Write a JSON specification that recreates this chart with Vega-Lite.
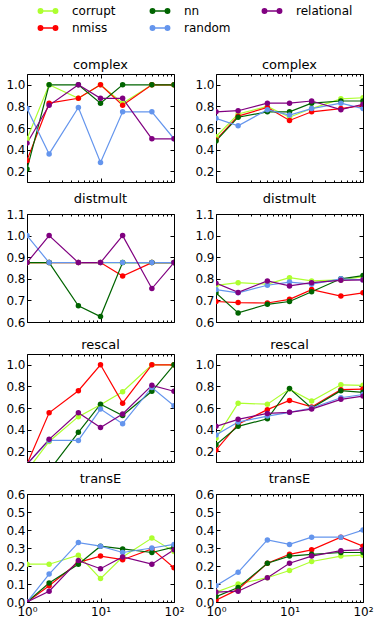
{
"$schema": "https://vega.github.io/schema/vega-lite/v6.json",
"padding": {"left": 5, "top": 0, "right": 5, "bottom": 5},
"bounds": "flush",
"columns": 2,
"spacing": {"row": 32, "column": 42},
"config": {"font": "DejaVu Sans", "view": {"stroke": "black", "strokeWidth": 1}, "title": {"fontSize": 13, "fontWeight": "normal", "offset": 2, "color": "black"},
  "axis": {"grid": false, "domain": false, "title": null, "labelFontSize": 12, "labelColor": "black", "tickColor": "black", "labelPadding": 6}},
"datasets": {"d": [
{"m":"complex","s":"L","g":"corrupt","x":1,"y":0.5},{"m":"complex","s":"L","g":"corrupt","x":2,"y":1.0},{"m":"complex","s":"L","g":"corrupt","x":5,"y":0.875},{"m":"complex","s":"L","g":"corrupt","x":10,"y":1.0},{"m":"complex","s":"L","g":"corrupt","x":20,"y":0.83},{"m":"complex","s":"L","g":"corrupt","x":50,"y":1.0},{"m":"complex","s":"L","g":"corrupt","x":100,"y":1.0},
{"m":"complex","s":"L","g":"nmiss","x":1,"y":0.3},{"m":"complex","s":"L","g":"nmiss","x":2,"y":0.83},{"m":"complex","s":"L","g":"nmiss","x":5,"y":0.875},{"m":"complex","s":"L","g":"nmiss","x":10,"y":1.0},{"m":"complex","s":"L","g":"nmiss","x":20,"y":0.81},{"m":"complex","s":"L","g":"nmiss","x":50,"y":1.0},{"m":"complex","s":"L","g":"nmiss","x":100,"y":1.0},
{"m":"complex","s":"L","g":"nn","x":1,"y":0.22},{"m":"complex","s":"L","g":"nn","x":2,"y":1.0},{"m":"complex","s":"L","g":"nn","x":5,"y":1.0},{"m":"complex","s":"L","g":"nn","x":10,"y":0.83},{"m":"complex","s":"L","g":"nn","x":20,"y":1.0},{"m":"complex","s":"L","g":"nn","x":50,"y":1.0},{"m":"complex","s":"L","g":"nn","x":100,"y":1.0},
{"m":"complex","s":"L","g":"random","x":1,"y":0.78},{"m":"complex","s":"L","g":"random","x":2,"y":0.36},{"m":"complex","s":"L","g":"random","x":5,"y":0.79},{"m":"complex","s":"L","g":"random","x":10,"y":0.28},{"m":"complex","s":"L","g":"random","x":20,"y":0.75},{"m":"complex","s":"L","g":"random","x":50,"y":0.75},{"m":"complex","s":"L","g":"random","x":100,"y":0.5},
{"m":"complex","s":"L","g":"relational","x":1,"y":0.46},{"m":"complex","s":"L","g":"relational","x":2,"y":0.81},{"m":"complex","s":"L","g":"relational","x":5,"y":1.0},{"m":"complex","s":"L","g":"relational","x":10,"y":0.875},{"m":"complex","s":"L","g":"relational","x":20,"y":0.875},{"m":"complex","s":"L","g":"relational","x":50,"y":0.5},{"m":"complex","s":"L","g":"relational","x":100,"y":0.5},
{"m":"complex","s":"R","g":"corrupt","x":1,"y":0.52},{"m":"complex","s":"R","g":"corrupt","x":2,"y":0.73},{"m":"complex","s":"R","g":"corrupt","x":5,"y":0.8},{"m":"complex","s":"R","g":"corrupt","x":10,"y":0.7},{"m":"complex","s":"R","g":"corrupt","x":20,"y":0.78},{"m":"complex","s":"R","g":"corrupt","x":50,"y":0.87},{"m":"complex","s":"R","g":"corrupt","x":100,"y":0.88},
{"m":"complex","s":"R","g":"nmiss","x":1,"y":0.49},{"m":"complex","s":"R","g":"nmiss","x":2,"y":0.71},{"m":"complex","s":"R","g":"nmiss","x":5,"y":0.79},{"m":"complex","s":"R","g":"nmiss","x":10,"y":0.67},{"m":"complex","s":"R","g":"nmiss","x":20,"y":0.75},{"m":"complex","s":"R","g":"nmiss","x":50,"y":0.78},{"m":"complex","s":"R","g":"nmiss","x":100,"y":0.81},
{"m":"complex","s":"R","g":"nn","x":1,"y":0.48},{"m":"complex","s":"R","g":"nn","x":2,"y":0.7},{"m":"complex","s":"R","g":"nn","x":5,"y":0.75},{"m":"complex","s":"R","g":"nn","x":10,"y":0.75},{"m":"complex","s":"R","g":"nn","x":20,"y":0.83},{"m":"complex","s":"R","g":"nn","x":50,"y":0.85},{"m":"complex","s":"R","g":"nn","x":100,"y":0.85},
{"m":"complex","s":"R","g":"random","x":1,"y":0.69},{"m":"complex","s":"R","g":"random","x":2,"y":0.62},{"m":"complex","s":"R","g":"random","x":5,"y":0.77},{"m":"complex","s":"R","g":"random","x":10,"y":0.72},{"m":"complex","s":"R","g":"random","x":20,"y":0.78},{"m":"complex","s":"R","g":"random","x":50,"y":0.83},{"m":"complex","s":"R","g":"random","x":100,"y":0.78},
{"m":"complex","s":"R","g":"relational","x":1,"y":0.75},{"m":"complex","s":"R","g":"relational","x":2,"y":0.76},{"m":"complex","s":"R","g":"relational","x":5,"y":0.83},{"m":"complex","s":"R","g":"relational","x":10,"y":0.83},{"m":"complex","s":"R","g":"relational","x":20,"y":0.85},{"m":"complex","s":"R","g":"relational","x":50,"y":0.77},{"m":"complex","s":"R","g":"relational","x":100,"y":0.82},
{"m":"distmult","s":"L","g":"corrupt","x":1,"y":0.875},{"m":"distmult","s":"L","g":"corrupt","x":2,"y":0.875},{"m":"distmult","s":"L","g":"corrupt","x":5,"y":0.875},{"m":"distmult","s":"L","g":"corrupt","x":10,"y":0.875},{"m":"distmult","s":"L","g":"corrupt","x":20,"y":0.875},{"m":"distmult","s":"L","g":"corrupt","x":50,"y":0.875},{"m":"distmult","s":"L","g":"corrupt","x":100,"y":0.875},
{"m":"distmult","s":"L","g":"nmiss","x":1,"y":0.875},{"m":"distmult","s":"L","g":"nmiss","x":2,"y":0.875},{"m":"distmult","s":"L","g":"nmiss","x":5,"y":0.875},{"m":"distmult","s":"L","g":"nmiss","x":10,"y":0.875},{"m":"distmult","s":"L","g":"nmiss","x":20,"y":0.8125},{"m":"distmult","s":"L","g":"nmiss","x":50,"y":0.875},{"m":"distmult","s":"L","g":"nmiss","x":100,"y":0.875},
{"m":"distmult","s":"L","g":"nn","x":1,"y":0.875},{"m":"distmult","s":"L","g":"nn","x":2,"y":0.875},{"m":"distmult","s":"L","g":"nn","x":5,"y":0.675},{"m":"distmult","s":"L","g":"nn","x":10,"y":0.625},{"m":"distmult","s":"L","g":"nn","x":20,"y":0.875},{"m":"distmult","s":"L","g":"nn","x":50,"y":0.875},{"m":"distmult","s":"L","g":"nn","x":100,"y":0.875},
{"m":"distmult","s":"L","g":"random","x":1,"y":1.0},{"m":"distmult","s":"L","g":"random","x":2,"y":0.875},{"m":"distmult","s":"L","g":"random","x":5,"y":0.875},{"m":"distmult","s":"L","g":"random","x":10,"y":0.875},{"m":"distmult","s":"L","g":"random","x":20,"y":0.875},{"m":"distmult","s":"L","g":"random","x":50,"y":0.875},{"m":"distmult","s":"L","g":"random","x":100,"y":0.875},
{"m":"distmult","s":"L","g":"relational","x":1,"y":0.875},{"m":"distmult","s":"L","g":"relational","x":2,"y":1.0},{"m":"distmult","s":"L","g":"relational","x":5,"y":0.875},{"m":"distmult","s":"L","g":"relational","x":10,"y":0.875},{"m":"distmult","s":"L","g":"relational","x":20,"y":1.0},{"m":"distmult","s":"L","g":"relational","x":50,"y":0.755},{"m":"distmult","s":"L","g":"relational","x":100,"y":0.875},
{"m":"distmult","s":"R","g":"corrupt","x":1,"y":0.77},{"m":"distmult","s":"R","g":"corrupt","x":2,"y":0.782},{"m":"distmult","s":"R","g":"corrupt","x":5,"y":0.775},{"m":"distmult","s":"R","g":"corrupt","x":10,"y":0.805},{"m":"distmult","s":"R","g":"corrupt","x":20,"y":0.79},{"m":"distmult","s":"R","g":"corrupt","x":50,"y":0.795},{"m":"distmult","s":"R","g":"corrupt","x":100,"y":0.81},
{"m":"distmult","s":"R","g":"nmiss","x":1,"y":0.695},{"m":"distmult","s":"R","g":"nmiss","x":2,"y":0.69},{"m":"distmult","s":"R","g":"nmiss","x":5,"y":0.688},{"m":"distmult","s":"R","g":"nmiss","x":10,"y":0.705},{"m":"distmult","s":"R","g":"nmiss","x":20,"y":0.75},{"m":"distmult","s":"R","g":"nmiss","x":50,"y":0.72},{"m":"distmult","s":"R","g":"nmiss","x":100,"y":0.735},
{"m":"distmult","s":"R","g":"nn","x":1,"y":0.735},{"m":"distmult","s":"R","g":"nn","x":2,"y":0.642},{"m":"distmult","s":"R","g":"nn","x":5,"y":0.682},{"m":"distmult","s":"R","g":"nn","x":10,"y":0.695},{"m":"distmult","s":"R","g":"nn","x":20,"y":0.74},{"m":"distmult","s":"R","g":"nn","x":50,"y":0.8},{"m":"distmult","s":"R","g":"nn","x":100,"y":0.815},
{"m":"distmult","s":"R","g":"random","x":1,"y":0.75},{"m":"distmult","s":"R","g":"random","x":2,"y":0.735},{"m":"distmult","s":"R","g":"random","x":5,"y":0.77},{"m":"distmult","s":"R","g":"random","x":10,"y":0.785},{"m":"distmult","s":"R","g":"random","x":20,"y":0.775},{"m":"distmult","s":"R","g":"random","x":50,"y":0.8},{"m":"distmult","s":"R","g":"random","x":100,"y":0.795},
{"m":"distmult","s":"R","g":"relational","x":1,"y":0.78},{"m":"distmult","s":"R","g":"relational","x":2,"y":0.737},{"m":"distmult","s":"R","g":"relational","x":5,"y":0.79},{"m":"distmult","s":"R","g":"relational","x":10,"y":0.767},{"m":"distmult","s":"R","g":"relational","x":20,"y":0.782},{"m":"distmult","s":"R","g":"relational","x":50,"y":0.793},{"m":"distmult","s":"R","g":"relational","x":100,"y":0.795},
{"m":"rescal","s":"L","g":"corrupt","x":1,"y":0.02},{"m":"rescal","s":"L","g":"corrupt","x":2,"y":0.29},{"m":"rescal","s":"L","g":"corrupt","x":5,"y":0.52},{"m":"rescal","s":"L","g":"corrupt","x":10,"y":0.63},{"m":"rescal","s":"L","g":"corrupt","x":20,"y":0.75},{"m":"rescal","s":"L","g":"corrupt","x":50,"y":1.0},{"m":"rescal","s":"L","g":"corrupt","x":100,"y":1.0},
{"m":"rescal","s":"L","g":"nmiss","x":1,"y":0.08},{"m":"rescal","s":"L","g":"nmiss","x":2,"y":0.555},{"m":"rescal","s":"L","g":"nmiss","x":5,"y":0.76},{"m":"rescal","s":"L","g":"nmiss","x":10,"y":1.0},{"m":"rescal","s":"L","g":"nmiss","x":20,"y":0.645},{"m":"rescal","s":"L","g":"nmiss","x":50,"y":1.0},{"m":"rescal","s":"L","g":"nmiss","x":100,"y":1.0},
{"m":"rescal","s":"L","g":"nn","x":1,"y":0.0},{"m":"rescal","s":"L","g":"nn","x":2,"y":0.02},{"m":"rescal","s":"L","g":"nn","x":5,"y":0.375},{"m":"rescal","s":"L","g":"nn","x":10,"y":0.635},{"m":"rescal","s":"L","g":"nn","x":20,"y":0.53},{"m":"rescal","s":"L","g":"nn","x":50,"y":0.755},{"m":"rescal","s":"L","g":"nn","x":100,"y":1.0},
{"m":"rescal","s":"L","g":"random","x":1,"y":0.08},{"m":"rescal","s":"L","g":"random","x":2,"y":0.3},{"m":"rescal","s":"L","g":"random","x":5,"y":0.3},{"m":"rescal","s":"L","g":"random","x":10,"y":0.59},{"m":"rescal","s":"L","g":"random","x":20,"y":0.455},{"m":"rescal","s":"L","g":"random","x":50,"y":0.79},{"m":"rescal","s":"L","g":"random","x":100,"y":0.62},
{"m":"rescal","s":"L","g":"relational","x":1,"y":0.08},{"m":"rescal","s":"L","g":"relational","x":2,"y":0.31},{"m":"rescal","s":"L","g":"relational","x":5,"y":0.555},{"m":"rescal","s":"L","g":"relational","x":10,"y":0.42},{"m":"rescal","s":"L","g":"relational","x":20,"y":0.545},{"m":"rescal","s":"L","g":"relational","x":50,"y":0.81},{"m":"rescal","s":"L","g":"relational","x":100,"y":0.755},
{"m":"rescal","s":"R","g":"corrupt","x":1,"y":0.32},{"m":"rescal","s":"R","g":"corrupt","x":2,"y":0.645},{"m":"rescal","s":"R","g":"corrupt","x":5,"y":0.635},{"m":"rescal","s":"R","g":"corrupt","x":10,"y":0.775},{"m":"rescal","s":"R","g":"corrupt","x":20,"y":0.665},{"m":"rescal","s":"R","g":"corrupt","x":50,"y":0.815},{"m":"rescal","s":"R","g":"corrupt","x":100,"y":0.81},
{"m":"rescal","s":"R","g":"nmiss","x":1,"y":0.21},{"m":"rescal","s":"R","g":"nmiss","x":2,"y":0.45},{"m":"rescal","s":"R","g":"nmiss","x":5,"y":0.585},{"m":"rescal","s":"R","g":"nmiss","x":10,"y":0.67},{"m":"rescal","s":"R","g":"nmiss","x":20,"y":0.61},{"m":"rescal","s":"R","g":"nmiss","x":50,"y":0.77},{"m":"rescal","s":"R","g":"nmiss","x":100,"y":0.775},
{"m":"rescal","s":"R","g":"nn","x":1,"y":0.26},{"m":"rescal","s":"R","g":"nn","x":2,"y":0.43},{"m":"rescal","s":"R","g":"nn","x":5,"y":0.5},{"m":"rescal","s":"R","g":"nn","x":10,"y":0.78},{"m":"rescal","s":"R","g":"nn","x":20,"y":0.6},{"m":"rescal","s":"R","g":"nn","x":50,"y":0.76},{"m":"rescal","s":"R","g":"nn","x":100,"y":0.745},
{"m":"rescal","s":"R","g":"random","x":1,"y":0.35},{"m":"rescal","s":"R","g":"random","x":2,"y":0.47},{"m":"rescal","s":"R","g":"random","x":5,"y":0.525},{"m":"rescal","s":"R","g":"random","x":10,"y":0.56},{"m":"rescal","s":"R","g":"random","x":20,"y":0.6},{"m":"rescal","s":"R","g":"random","x":50,"y":0.695},{"m":"rescal","s":"R","g":"random","x":100,"y":0.725},
{"m":"rescal","s":"R","g":"relational","x":1,"y":0.43},{"m":"rescal","s":"R","g":"relational","x":2,"y":0.495},{"m":"rescal","s":"R","g":"relational","x":5,"y":0.55},{"m":"rescal","s":"R","g":"relational","x":10,"y":0.56},{"m":"rescal","s":"R","g":"relational","x":20,"y":0.59},{"m":"rescal","s":"R","g":"relational","x":50,"y":0.68},{"m":"rescal","s":"R","g":"relational","x":100,"y":0.71},
{"m":"transE","s":"L","g":"corrupt","x":1,"y":0.21},{"m":"transE","s":"L","g":"corrupt","x":2,"y":0.21},{"m":"transE","s":"L","g":"corrupt","x":5,"y":0.26},{"m":"transE","s":"L","g":"corrupt","x":10,"y":0.13},{"m":"transE","s":"L","g":"corrupt","x":20,"y":0.25},{"m":"transE","s":"L","g":"corrupt","x":50,"y":0.355},{"m":"transE","s":"L","g":"corrupt","x":100,"y":0.28},
{"m":"transE","s":"L","g":"nmiss","x":1,"y":0.0},{"m":"transE","s":"L","g":"nmiss","x":2,"y":0.09},{"m":"transE","s":"L","g":"nmiss","x":5,"y":0.22},{"m":"transE","s":"L","g":"nmiss","x":10,"y":0.255},{"m":"transE","s":"L","g":"nmiss","x":20,"y":0.235},{"m":"transE","s":"L","g":"nmiss","x":50,"y":0.295},{"m":"transE","s":"L","g":"nmiss","x":100,"y":0.19},
{"m":"transE","s":"L","g":"nn","x":1,"y":0.0},{"m":"transE","s":"L","g":"nn","x":2,"y":0.105},{"m":"transE","s":"L","g":"nn","x":5,"y":0.21},{"m":"transE","s":"L","g":"nn","x":10,"y":0.31},{"m":"transE","s":"L","g":"nn","x":20,"y":0.295},{"m":"transE","s":"L","g":"nn","x":50,"y":0.275},{"m":"transE","s":"L","g":"nn","x":100,"y":0.305},
{"m":"transE","s":"L","g":"random","x":1,"y":0.0},{"m":"transE","s":"L","g":"random","x":2,"y":0.155},{"m":"transE","s":"L","g":"random","x":5,"y":0.33},{"m":"transE","s":"L","g":"random","x":10,"y":0.31},{"m":"transE","s":"L","g":"random","x":20,"y":0.275},{"m":"transE","s":"L","g":"random","x":50,"y":0.3},{"m":"transE","s":"L","g":"random","x":100,"y":0.32},
{"m":"transE","s":"L","g":"relational","x":1,"y":0.0},{"m":"transE","s":"L","g":"relational","x":2,"y":0.06},{"m":"transE","s":"L","g":"relational","x":5,"y":0.23},{"m":"transE","s":"L","g":"relational","x":10,"y":0.185},{"m":"transE","s":"L","g":"relational","x":20,"y":0.25},{"m":"transE","s":"L","g":"relational","x":50,"y":0.21},{"m":"transE","s":"L","g":"relational","x":100,"y":0.29},
{"m":"transE","s":"R","g":"corrupt","x":1,"y":0.055},{"m":"transE","s":"R","g":"corrupt","x":2,"y":0.1},{"m":"transE","s":"R","g":"corrupt","x":5,"y":0.135},{"m":"transE","s":"R","g":"corrupt","x":10,"y":0.175},{"m":"transE","s":"R","g":"corrupt","x":20,"y":0.225},{"m":"transE","s":"R","g":"corrupt","x":50,"y":0.255},{"m":"transE","s":"R","g":"corrupt","x":100,"y":0.26},
{"m":"transE","s":"R","g":"nmiss","x":1,"y":0.01},{"m":"transE","s":"R","g":"nmiss","x":2,"y":0.07},{"m":"transE","s":"R","g":"nmiss","x":5,"y":0.215},{"m":"transE","s":"R","g":"nmiss","x":10,"y":0.265},{"m":"transE","s":"R","g":"nmiss","x":20,"y":0.29},{"m":"transE","s":"R","g":"nmiss","x":50,"y":0.36},{"m":"transE","s":"R","g":"nmiss","x":100,"y":0.31},
{"m":"transE","s":"R","g":"nn","x":1,"y":0.03},{"m":"transE","s":"R","g":"nn","x":2,"y":0.08},{"m":"transE","s":"R","g":"nn","x":5,"y":0.215},{"m":"transE","s":"R","g":"nn","x":10,"y":0.255},{"m":"transE","s":"R","g":"nn","x":20,"y":0.265},{"m":"transE","s":"R","g":"nn","x":50,"y":0.275},{"m":"transE","s":"R","g":"nn","x":100,"y":0.275},
{"m":"transE","s":"R","g":"random","x":1,"y":0.09},{"m":"transE","s":"R","g":"random","x":2,"y":0.165},{"m":"transE","s":"R","g":"random","x":5,"y":0.345},{"m":"transE","s":"R","g":"random","x":10,"y":0.32},{"m":"transE","s":"R","g":"random","x":20,"y":0.36},{"m":"transE","s":"R","g":"random","x":50,"y":0.36},{"m":"transE","s":"R","g":"random","x":100,"y":0.4},
{"m":"transE","s":"R","g":"relational","x":1,"y":0.055},{"m":"transE","s":"R","g":"relational","x":2,"y":0.06},{"m":"transE","s":"R","g":"relational","x":5,"y":0.135},{"m":"transE","s":"R","g":"relational","x":10,"y":0.215},{"m":"transE","s":"R","g":"relational","x":20,"y":0.255},{"m":"transE","s":"R","g":"relational","x":50,"y":0.285},{"m":"transE","s":"R","g":"relational","x":100,"y":0.29}
]},
"data": {"name": "d"},
"concat": [
 {"title": "complex", "width": 147, "height": 108, "transform": [{"filter": "datum.m==='complex' && datum.s==='L'"}],
  "encoding": {
   "x": {"field": "x", "type": "quantitative", "scale": {"type": "log", "domain": [1, 100], "nice": false}, "axis": {"orient": "bottom", "values": [1,2,3,4,5,6,7,8,9,10,20,30,40,50,60,70,80,90,100], "labels": false, "tickSize": {"condition": {"test": "datum.value==1||datum.value==10||datum.value==100", "value": -4}, "value": -2}}},
   "y": {"field": "y", "type": "quantitative", "scale": {"domain": [0.1, 1.1], "nice": false, "zero": false}, "axis": {"orient": "left", "values": [0.2,0.4,0.6,0.8,1.0], "format": ".1f", "tickSize": -4, "labelPadding": 6}},
   "color": {"field": "g", "type": "nominal", "scale": {"domain": ["corrupt","nmiss","nn","random","relational"], "range": ["#adff2f","#ff0000","#006400","#6495ed","#800080"]},
     "legend": {"orient": "none", "legendX": 10, "legendY": -74, "direction": "horizontal", "columns": 3, "gridAlign": "all", "title": null, "values": ["corrupt","nn","relational","nmiss","random"], "symbolType": "M-1,0L1,0M-0.97,0A0.22,0.22 0 1,0 -0.53,0A0.22,0.22 0 1,0 -0.97,0ZM0.53,0A0.22,0.22 0 1,0 0.97,0A0.22,0.22 0 1,0 0.53,0Z", "symbolSize": 400, "symbolStrokeWidth": 1.5, "labelFontSize": 12, "labelColor": "black", "columnPadding": 18, "rowPadding": 0, "labelOffset": 13,
       "encode": {"symbols": {"update": {"fill": {"scale": "color", "field": "value"}, "stroke": {"scale": "color", "field": "value"}}}}}}
  },
  "layer": [
   {"mark": {"type": "line", "clip": true, "strokeWidth": 1.2}},
   {"mark": {"type": "circle", "clip": true, "size": 30, "opacity": 1},
    "encoding": {"x": {"field": "x", "type": "quantitative", "axis": {"orient": "top", "values": [1,2,3,4,5,6,7,8,9,10,20,30,40,50,60,70,80,90,100], "labels": false, "tickSize": {"condition": {"test": "datum.value==1||datum.value==10||datum.value==100", "value": -4}, "value": -2}}},
                 "y": {"field": "y", "type": "quantitative", "axis": {"orient": "right", "values": [0.2,0.4,0.6,0.8,1.0], "labels": false, "tickSize": -4}}}}
  ],
  "resolve": {"axis": {"x": "independent", "y": "independent"}}
 },
 {"title": "complex", "width": 147, "height": 108, "transform": [{"filter": "datum.m==='complex' && datum.s==='R'"}],
  "encoding": {
   "x": {"field": "x", "type": "quantitative", "scale": {"type": "log", "domain": [1, 100], "nice": false}, "axis": {"orient": "bottom", "values": [1,2,3,4,5,6,7,8,9,10,20,30,40,50,60,70,80,90,100], "labels": false, "tickSize": {"condition": {"test": "datum.value==1||datum.value==10||datum.value==100", "value": -4}, "value": -2}}},
   "y": {"field": "y", "type": "quantitative", "scale": {"domain": [0.1, 1.1], "nice": false, "zero": false}, "axis": {"orient": "left", "values": [0.2,0.4,0.6,0.8,1.0], "format": ".1f", "tickSize": -4, "labelPadding": 6}},
   "color": {"field": "g", "type": "nominal"}
  },
  "layer": [
   {"mark": {"type": "line", "clip": true, "strokeWidth": 1.2}},
   {"mark": {"type": "circle", "clip": true, "size": 30, "opacity": 1},
    "encoding": {"x": {"field": "x", "type": "quantitative", "axis": {"orient": "top", "values": [1,2,3,4,5,6,7,8,9,10,20,30,40,50,60,70,80,90,100], "labels": false, "tickSize": {"condition": {"test": "datum.value==1||datum.value==10||datum.value==100", "value": -4}, "value": -2}}},
                 "y": {"field": "y", "type": "quantitative", "axis": {"orient": "right", "values": [0.2,0.4,0.6,0.8,1.0], "labels": false, "tickSize": -4}}}}
  ],
  "resolve": {"axis": {"x": "independent", "y": "independent"}}
 },
 {"title": "distmult", "width": 147, "height": 108, "transform": [{"filter": "datum.m==='distmult' && datum.s==='L'"}],
  "encoding": {
   "x": {"field": "x", "type": "quantitative", "scale": {"type": "log", "domain": [1, 100], "nice": false}, "axis": {"orient": "bottom", "values": [1,2,3,4,5,6,7,8,9,10,20,30,40,50,60,70,80,90,100], "labels": false, "tickSize": {"condition": {"test": "datum.value==1||datum.value==10||datum.value==100", "value": -4}, "value": -2}}},
   "y": {"field": "y", "type": "quantitative", "scale": {"domain": [0.6, 1.1], "nice": false, "zero": false}, "axis": {"orient": "left", "values": [0.6,0.7,0.8,0.9,1.0,1.1], "format": ".1f", "tickSize": -4, "labelPadding": 6}},
   "color": {"field": "g", "type": "nominal"}
  },
  "layer": [
   {"mark": {"type": "line", "clip": true, "strokeWidth": 1.2}},
   {"mark": {"type": "circle", "clip": true, "size": 30, "opacity": 1},
    "encoding": {"x": {"field": "x", "type": "quantitative", "axis": {"orient": "top", "values": [1,2,3,4,5,6,7,8,9,10,20,30,40,50,60,70,80,90,100], "labels": false, "tickSize": {"condition": {"test": "datum.value==1||datum.value==10||datum.value==100", "value": -4}, "value": -2}}},
                 "y": {"field": "y", "type": "quantitative", "axis": {"orient": "right", "values": [0.6,0.7,0.8,0.9,1.0,1.1], "labels": false, "tickSize": -4}}}}
  ],
  "resolve": {"axis": {"x": "independent", "y": "independent"}}
 },
 {"title": "distmult", "width": 147, "height": 108, "transform": [{"filter": "datum.m==='distmult' && datum.s==='R'"}],
  "encoding": {
   "x": {"field": "x", "type": "quantitative", "scale": {"type": "log", "domain": [1, 100], "nice": false}, "axis": {"orient": "bottom", "values": [1,2,3,4,5,6,7,8,9,10,20,30,40,50,60,70,80,90,100], "labels": false, "tickSize": {"condition": {"test": "datum.value==1||datum.value==10||datum.value==100", "value": -4}, "value": -2}}},
   "y": {"field": "y", "type": "quantitative", "scale": {"domain": [0.6, 1.1], "nice": false, "zero": false}, "axis": {"orient": "left", "values": [0.6,0.7,0.8,0.9,1.0,1.1], "format": ".1f", "tickSize": -4, "labelPadding": 6}},
   "color": {"field": "g", "type": "nominal"}
  },
  "layer": [
   {"mark": {"type": "line", "clip": true, "strokeWidth": 1.2}},
   {"mark": {"type": "circle", "clip": true, "size": 30, "opacity": 1},
    "encoding": {"x": {"field": "x", "type": "quantitative", "axis": {"orient": "top", "values": [1,2,3,4,5,6,7,8,9,10,20,30,40,50,60,70,80,90,100], "labels": false, "tickSize": {"condition": {"test": "datum.value==1||datum.value==10||datum.value==100", "value": -4}, "value": -2}}},
                 "y": {"field": "y", "type": "quantitative", "axis": {"orient": "right", "values": [0.6,0.7,0.8,0.9,1.0,1.1], "labels": false, "tickSize": -4}}}}
  ],
  "resolve": {"axis": {"x": "independent", "y": "independent"}}
 },
 {"title": "rescal", "width": 147, "height": 108, "transform": [{"filter": "datum.m==='rescal' && datum.s==='L'"}],
  "encoding": {
   "x": {"field": "x", "type": "quantitative", "scale": {"type": "log", "domain": [1, 100], "nice": false}, "axis": {"orient": "bottom", "values": [1,2,3,4,5,6,7,8,9,10,20,30,40,50,60,70,80,90,100], "labels": false, "tickSize": {"condition": {"test": "datum.value==1||datum.value==10||datum.value==100", "value": -4}, "value": -2}}},
   "y": {"field": "y", "type": "quantitative", "scale": {"domain": [0.1, 1.1], "nice": false, "zero": false}, "axis": {"orient": "left", "values": [0.2,0.4,0.6,0.8,1.0], "format": ".1f", "tickSize": -4, "labelPadding": 6}},
   "color": {"field": "g", "type": "nominal"}
  },
  "layer": [
   {"mark": {"type": "line", "clip": true, "strokeWidth": 1.2}},
   {"mark": {"type": "circle", "clip": true, "size": 30, "opacity": 1},
    "encoding": {"x": {"field": "x", "type": "quantitative", "axis": {"orient": "top", "values": [1,2,3,4,5,6,7,8,9,10,20,30,40,50,60,70,80,90,100], "labels": false, "tickSize": {"condition": {"test": "datum.value==1||datum.value==10||datum.value==100", "value": -4}, "value": -2}}},
                 "y": {"field": "y", "type": "quantitative", "axis": {"orient": "right", "values": [0.2,0.4,0.6,0.8,1.0], "labels": false, "tickSize": -4}}}}
  ],
  "resolve": {"axis": {"x": "independent", "y": "independent"}}
 },
 {"title": "rescal", "width": 147, "height": 108, "transform": [{"filter": "datum.m==='rescal' && datum.s==='R'"}],
  "encoding": {
   "x": {"field": "x", "type": "quantitative", "scale": {"type": "log", "domain": [1, 100], "nice": false}, "axis": {"orient": "bottom", "values": [1,2,3,4,5,6,7,8,9,10,20,30,40,50,60,70,80,90,100], "labels": false, "tickSize": {"condition": {"test": "datum.value==1||datum.value==10||datum.value==100", "value": -4}, "value": -2}}},
   "y": {"field": "y", "type": "quantitative", "scale": {"domain": [0.1, 1.1], "nice": false, "zero": false}, "axis": {"orient": "left", "values": [0.2,0.4,0.6,0.8,1.0], "format": ".1f", "tickSize": -4, "labelPadding": 6}},
   "color": {"field": "g", "type": "nominal"}
  },
  "layer": [
   {"mark": {"type": "line", "clip": true, "strokeWidth": 1.2}},
   {"mark": {"type": "circle", "clip": true, "size": 30, "opacity": 1},
    "encoding": {"x": {"field": "x", "type": "quantitative", "axis": {"orient": "top", "values": [1,2,3,4,5,6,7,8,9,10,20,30,40,50,60,70,80,90,100], "labels": false, "tickSize": {"condition": {"test": "datum.value==1||datum.value==10||datum.value==100", "value": -4}, "value": -2}}},
                 "y": {"field": "y", "type": "quantitative", "axis": {"orient": "right", "values": [0.2,0.4,0.6,0.8,1.0], "labels": false, "tickSize": -4}}}}
  ],
  "resolve": {"axis": {"x": "independent", "y": "independent"}}
 },
 {"title": "transE", "width": 147, "height": 108, "transform": [{"filter": "datum.m==='transE' && datum.s==='L'"}],
  "encoding": {
   "x": {"field": "x", "type": "quantitative", "scale": {"type": "log", "domain": [1, 100], "nice": false}, "axis": {"orient": "bottom", "values": [1,2,3,4,5,6,7,8,9,10,20,30,40,50,60,70,80,90,100], "labelExpr": "datum.value==1?'10⁰':datum.value==10?'10¹':datum.value==100?'10²':''", "labelPadding": 8, "labelFlush": false, "tickSize": {"condition": {"test": "datum.value==1||datum.value==10||datum.value==100", "value": -4}, "value": -2}}},
   "y": {"field": "y", "type": "quantitative", "scale": {"domain": [0, 0.6], "nice": false, "zero": false}, "axis": {"orient": "left", "values": [0,0.1,0.2,0.3,0.4,0.5,0.6], "format": ".1f", "tickSize": -4, "labelPadding": 6}},
   "color": {"field": "g", "type": "nominal"}
  },
  "layer": [
   {"mark": {"type": "line", "clip": true, "strokeWidth": 1.2}},
   {"mark": {"type": "circle", "clip": true, "size": 30, "opacity": 1},
    "encoding": {"x": {"field": "x", "type": "quantitative", "axis": {"orient": "top", "values": [1,2,3,4,5,6,7,8,9,10,20,30,40,50,60,70,80,90,100], "labels": false, "tickSize": {"condition": {"test": "datum.value==1||datum.value==10||datum.value==100", "value": -4}, "value": -2}}},
                 "y": {"field": "y", "type": "quantitative", "axis": {"orient": "right", "values": [0,0.1,0.2,0.3,0.4,0.5,0.6], "labels": false, "tickSize": -4}}}}
  ],
  "resolve": {"axis": {"x": "independent", "y": "independent"}}
 },
 {"title": "transE", "width": 147, "height": 108, "transform": [{"filter": "datum.m==='transE' && datum.s==='R'"}],
  "encoding": {
   "x": {"field": "x", "type": "quantitative", "scale": {"type": "log", "domain": [1, 100], "nice": false}, "axis": {"orient": "bottom", "values": [1,2,3,4,5,6,7,8,9,10,20,30,40,50,60,70,80,90,100], "labelExpr": "datum.value==1?'10⁰':datum.value==10?'10¹':datum.value==100?'10²':''", "labelPadding": 8, "labelFlush": false, "tickSize": {"condition": {"test": "datum.value==1||datum.value==10||datum.value==100", "value": -4}, "value": -2}}},
   "y": {"field": "y", "type": "quantitative", "scale": {"domain": [0, 0.6], "nice": false, "zero": false}, "axis": {"orient": "left", "values": [0,0.1,0.2,0.3,0.4,0.5,0.6], "format": ".1f", "tickSize": -4, "labelPadding": 6}},
   "color": {"field": "g", "type": "nominal"}
  },
  "layer": [
   {"mark": {"type": "line", "clip": true, "strokeWidth": 1.2}},
   {"mark": {"type": "circle", "clip": true, "size": 30, "opacity": 1},
    "encoding": {"x": {"field": "x", "type": "quantitative", "axis": {"orient": "top", "values": [1,2,3,4,5,6,7,8,9,10,20,30,40,50,60,70,80,90,100], "labels": false, "tickSize": {"condition": {"test": "datum.value==1||datum.value==10||datum.value==100", "value": -4}, "value": -2}}},
                 "y": {"field": "y", "type": "quantitative", "axis": {"orient": "right", "values": [0,0.1,0.2,0.3,0.4,0.5,0.6], "labels": false, "tickSize": -4}}}}
  ],
  "resolve": {"axis": {"x": "independent", "y": "independent"}}
 }
]
}
